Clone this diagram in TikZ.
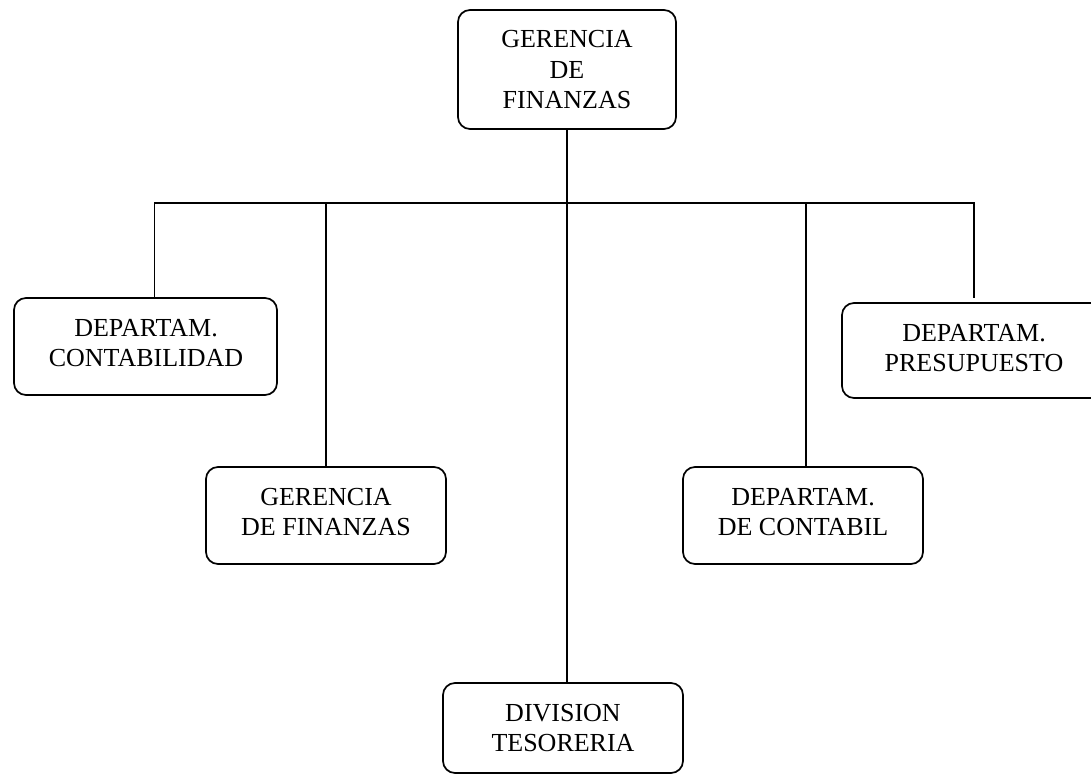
\documentclass[tikz,border=0pt]{standalone}
\usepackage{fontspec}
\setmainfont{Liberation Serif}
\begin{document}
\begin{tikzpicture}[x=1pt,y=-1pt,
  box/.style={draw, line width=1.7pt, rounded corners=12pt, inner sep=0pt},
  txt/.style={align=center, inner sep=0pt, font=\fontsize{26}{30.5}\selectfont},
  conn/.style={line width=1.7pt}]
\clip (0,0) rectangle (1091,775);
\fill[white] (0,0) rectangle (1091,775);
% boxes
\node[box, minimum width=218pt, minimum height=119pt] (top) at (567,69.5) {};
\node[box, minimum width=263pt, minimum height=97pt] (cont) at (145.5,346.5) {};
\node[box, minimum width=240pt, minimum height=97pt] (ger) at (326,515.5) {};
\node[box, minimum width=240pt, minimum height=90pt] (div) at (563,728) {};
\node[box, minimum width=240pt, minimum height=97pt] (dc) at (803,515.5) {};
\node[box, minimum width=268pt, minimum height=95pt] (pres) at (976,350.5) {};
% texts
\node[txt] (top-t) at (567,70) {GERENCIA\\DE\\FINANZAS};
\node[txt] (cont-t) at (146,343) {DEPARTAM.\\CONTABILIDAD};
\node[txt] (ger-t) at (326,512) {GERENCIA\\DE FINANZAS};
\node[txt] (div-t) at (563,728) {DIVISION\\TESORERIA};
\node[txt] (dc-t) at (803,512) {DEPARTAM.\\DE CONTABIL};
\node[txt] (pres-t) at (974,348) {DEPARTAM.\\PRESUPUESTO};
% connectors
\coordinate (bar) at (567,203);
\coordinate (presend) at (974,298);
\draw[conn] ([xshift=9pt]cont.north) |- (bar) -| (presend);
\draw[conn] (top.south) -- ([xshift=4pt]div.north);
\draw[conn] (ger.north) -- (ger.north |- bar);
\draw[conn] ([xshift=3pt]dc.north) -- ([xshift=3pt]dc.north |- bar);
\end{tikzpicture}
\end{document}
